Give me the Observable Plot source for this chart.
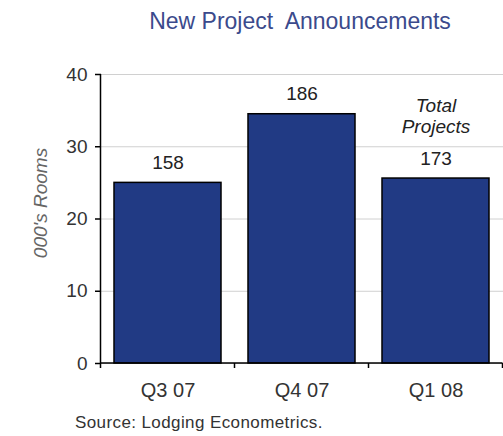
<!DOCTYPE html>
<html><head><meta charset="utf-8">
<script src="https://cdn.jsdelivr.net/npm/d3@7"></script>
<script src="https://cdn.jsdelivr.net/npm/@observablehq/plot@0.6"></script>
<style>
body{margin:0;background:#fff;font-family:"Liberation Sans",Arial,sans-serif;}
#title{height:50px;line-height:42px;font-size:23px;color:#3b4a8c;padding-left:97px;text-align:center;box-sizing:border-box;white-space:pre;}
#src{font-size:17px;letter-spacing:0.4px;line-height:20px;color:#333;padding-left:75px;margin-top:10px;}
</style></head><body>
<div id="title">New Project  Announcements</div>
<div id="chart"></div>
<div id="src">Source: Lodging Econometrics.</div>
<script>
const quarters = ["Q3 07", "Q4 07", "Q1 08"];
const rooms = [25, 34.5, 25.6];
const projects = [158, 186, 173];
const yTicks = [0, 10, 20, 30, 40];
const yLabel = "000's Rooms";
const note = "Total\nProjects";

const data = quarters.map((q, i) => ({q, rooms: rooms[i], projects: projects[i]}));

// axis lines and band-boundary ticks, placed from the scales
const axisLines = (index, scales, values, dims) => {
  const x = scales.x, bw = x.bandwidth(), step = x.step();
  const g = d3.create("svg:g").attr("stroke", "#000").attr("stroke-width", 1.5);
  const y0 = scales.y(0), yTop = scales.y(yTicks[yTicks.length - 1]);
  const half = (step - bw) / 2;
  const xs = [x(quarters[0]) - half];
  quarters.forEach(q => xs.push(x(q) + bw + half));
  xs.forEach(v => g.append("line").attr("x1", v).attr("x2", v).attr("y1", y0).attr("y2", y0 + 5));
  g.append("line").attr("x1", xs[0]).attr("x2", xs[xs.length - 1]).attr("y1", y0).attr("y2", y0);
  g.append("line").attr("x1", xs[0]).attr("x2", xs[0]).attr("y1", y0).attr("y2", yTop);
  return g.node();
};

const chart = Plot.plot({
  width: 503,
  height: 353,
  marginLeft: 101,
  marginRight: 0,
  marginTop: 24,
  marginBottom: 40,
  style: {fontFamily: "Liberation Sans, Arial, sans-serif", fontSize: "20px", color: "#333", background: "#fff", overflow: "visible"},
  x: {domain: quarters, paddingInner: 0.2, paddingOuter: 0.1, label: null},
  y: {domain: [0, 40], label: null},
  marks: [
    Plot.gridY(yTicks, {stroke: "#d0d0d0", strokeOpacity: 1, strokeWidth: 1}),
    Plot.barY(data, {x: "q", y: "rooms", fill: "#213a84", stroke: "#000", strokeWidth: 1.5}),
    Plot.axisY(yTicks, {tickSize: 6, tickPadding: 8, fontSize: 19, fill: "#333", stroke: "#000", strokeWidth: 1.5}),
    Plot.axisX({tickSize: 0, tickPadding: 19, fontSize: 20, fill: "#333"}),
    axisLines,
    Plot.text(data, {x: "q", y: "rooms", text: d => String(d.projects), dy: -20, fontSize: 19, fill: "#222"}),
    Plot.text([data[2]], {x: "q", y: "rooms", text: () => note, dy: -63, lineHeight: 1.1, fontSize: 19, fontStyle: "italic", fill: "#222"}),
    Plot.text([yLabel], {frameAnchor: "left", textAnchor: "middle", dx: -61, dy: -16, rotate: -90, fontSize: 19, fontStyle: "italic", fill: "#666"})
  ]
});
document.getElementById("chart").append(chart);
</script>
</body></html>
